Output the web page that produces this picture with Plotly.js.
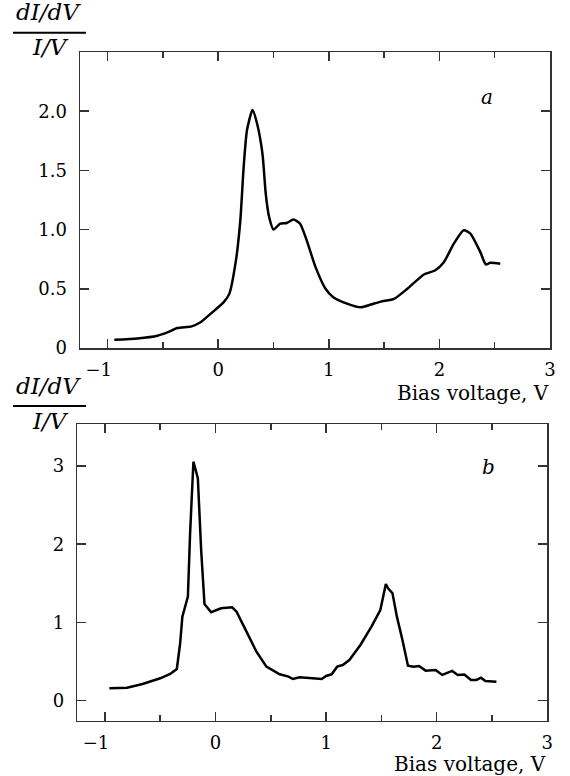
<!DOCTYPE html>
<html>
<head>
<meta charset="utf-8">
<script src="https://cdn.plot.ly/plotly-3.0.1.min.js"></script>
<style>
html,body{margin:0;padding:0;background:#fff;}
#chart{width:570px;height:776px;}
</style>
</head>
<body>
<div id="chart"></div>
<script>
// Panel a
const voltA = [-0.94,-0.73,-0.55,-0.46,-0.37,-0.24,-0.16,-0.07,0.05,0.10,0.16,0.20,0.23,0.26,0.31,0.35,0.40,0.43,0.46,0.50,0.56,0.62,0.68,0.74,0.80,0.88,0.97,1.04,1.17,1.29,1.38,1.47,1.59,1.71,1.86,1.96,2.04,2.13,2.22,2.28,2.37,2.42,2.46,2.55];
const condA = [0.070,0.081,0.104,0.132,0.169,0.183,0.217,0.288,0.387,0.457,0.740,1.080,1.530,1.840,2.010,1.900,1.640,1.300,1.107,1.000,1.050,1.056,1.085,1.050,0.909,0.683,0.500,0.429,0.373,0.344,0.367,0.392,0.415,0.500,0.621,0.655,0.725,0.881,0.994,0.966,0.810,0.706,0.720,0.712];
// Panel b
const voltB = [-0.96,-0.80,-0.66,-0.50,-0.41,-0.35,-0.32,-0.30,-0.25,-0.23,-0.20,-0.16,-0.13,-0.10,-0.04,0.05,0.15,0.19,0.28,0.37,0.46,0.58,0.66,0.70,0.76,0.85,0.96,1.00,1.05,1.10,1.15,1.21,1.31,1.41,1.49,1.54,1.56,1.60,1.64,1.69,1.74,1.79,1.84,1.90,1.99,2.05,2.14,2.19,2.25,2.31,2.36,2.40,2.44,2.54];
const condB = [0.158,0.166,0.213,0.286,0.341,0.405,0.734,1.074,1.330,2.140,3.055,2.843,1.926,1.236,1.130,1.181,1.194,1.138,0.882,0.626,0.435,0.337,0.307,0.277,0.299,0.288,0.277,0.316,0.337,0.435,0.456,0.520,0.712,0.946,1.159,1.492,1.437,1.373,1.074,0.776,0.447,0.435,0.443,0.384,0.392,0.329,0.380,0.329,0.333,0.265,0.265,0.294,0.252,0.243];

const xTickVals = [-1,0,1,2,3];
const xTickText = ['\u22121\u2003','0','1','2','3'];
const yTickValsA = [0,0.5,1,1.5,2];
const yTickTextA = ['0','0.5','1.0','1.5','2.0'];
const yTickValsB = [0,1,2,3];
const yTickTextB = ['0','1','2','3'];

const axCol = '#333';
const tickFont = {family:'DejaVu Serif', size:18, color:'#000'};
function xax(domain, anchor){
  return {domain:domain, anchor:anchor, range:[-1.25,3], tickmode:'array', tickvals:xTickVals, ticktext:xTickText,
    ticks:'inside', ticklen:9, tickwidth:1.5, tickcolor:axCol, showline:true, linecolor:axCol, linewidth:1.5,
    mirror:'ticks', showgrid:false, zeroline:false, tickfont:tickFont, ticklabelstandoff:5,
    minor:{dtick:0.5, tick0:0, ticks:'inside', ticklen:6, tickwidth:1.5, tickcolor:axCol, showgrid:false}};
}
function yax(domain, anchor, range, vals, text){
  return {domain:domain, anchor:anchor, range:range, tickmode:'array', tickvals:vals, ticktext:text,
    ticks:'inside', ticklen:9, tickwidth:1.5, tickcolor:axCol, showline:true, linecolor:axCol, linewidth:1.5,
    mirror:'ticks', showgrid:false, zeroline:false, tickfont:tickFont, ticklabelstandoff:8};
}

const traces = [
  {x:voltA, y:condA, xaxis:'x', yaxis:'y', mode:'lines', line:{color:'#000', width:2.5, shape:'spline', smoothing:0.6}, showlegend:false},
  {x:voltB, y:condB, xaxis:'x2', yaxis:'y2', mode:'lines', line:{color:'#000', width:2.5}, showlegend:false}
];

const fracFont = {family:'DejaVu Serif', size:23, color:'#000', style:'italic'};
function py(p){ return 1 - p/776; }
const annotations = [
  {xref:'paper', yref:'paper', x:48.5/570, y:py(12), text:'dI/dV', showarrow:false, font:fracFont, xanchor:'center', yanchor:'middle'},
  {xref:'paper', yref:'paper', x:50/570, y:py(47), text:'I/V', showarrow:false, font:fracFont, xanchor:'center', yanchor:'middle'},
  {xref:'paper', yref:'paper', x:48.5/570, y:py(386), text:'dI/dV', showarrow:false, font:fracFont, xanchor:'center', yanchor:'middle'},
  {xref:'paper', yref:'paper', x:50/570, y:py(421), text:'I/V', showarrow:false, font:fracFont, xanchor:'center', yanchor:'middle'},
  {xref:'paper', yref:'paper', x:487/570, y:py(97), text:'a', showarrow:false, font:{family:'DejaVu Serif', size:20, color:'#000', style:'italic'}, xanchor:'center', yanchor:'middle'},
  {xref:'paper', yref:'paper', x:488/570, y:py(467), text:'b', showarrow:false, font:{family:'DejaVu Serif', size:20, color:'#000', style:'italic'}, xanchor:'center', yanchor:'middle'},
  {xref:'paper', yref:'paper', x:551/570, y:py(393), text:'Bias voltage, V', showarrow:false, font:{family:'DejaVu Serif', size:20, color:'#000'}, xanchor:'right', yanchor:'middle'},
  {xref:'paper', yref:'paper', x:548/570, y:py(764), text:'Bias voltage, V', showarrow:false, font:{family:'DejaVu Serif', size:20, color:'#000'}, xanchor:'right', yanchor:'middle'}
];
const shapes = [
  {type:'line', xref:'paper', yref:'paper', x0:13/570, x1:86/570, y0:py(32.7), y1:py(32.7), line:{color:'#000', width:2}},
  {type:'line', xref:'paper', yref:'paper', x0:13/570, x1:86/570, y0:py(406), y1:py(406), line:{color:'#000', width:2}}
];

const layout = {
  width:570, height:776, margin:{l:0,r:0,t:0,b:0}, paper_bgcolor:'#fff', plot_bgcolor:'#fff',
  xaxis: xax([80/570, 550/570], 'y'),
  yaxis: yax([1-348/776, 1-52/776], 'x', [0,2.5], yTickValsA, yTickTextA),
  xaxis2: xax([77.3/570, 547.3/570], 'y2'),
  yaxis2: yax([1-720.7/776, 1-424.3/776], 'x2', [-0.256,3.533], yTickValsB, yTickTextB),
  annotations: annotations, shapes: shapes, showlegend:false
};
Plotly.newPlot('chart', traces, layout, {staticPlot:true, displayModeBar:false});
</script>
</body>
</html>
